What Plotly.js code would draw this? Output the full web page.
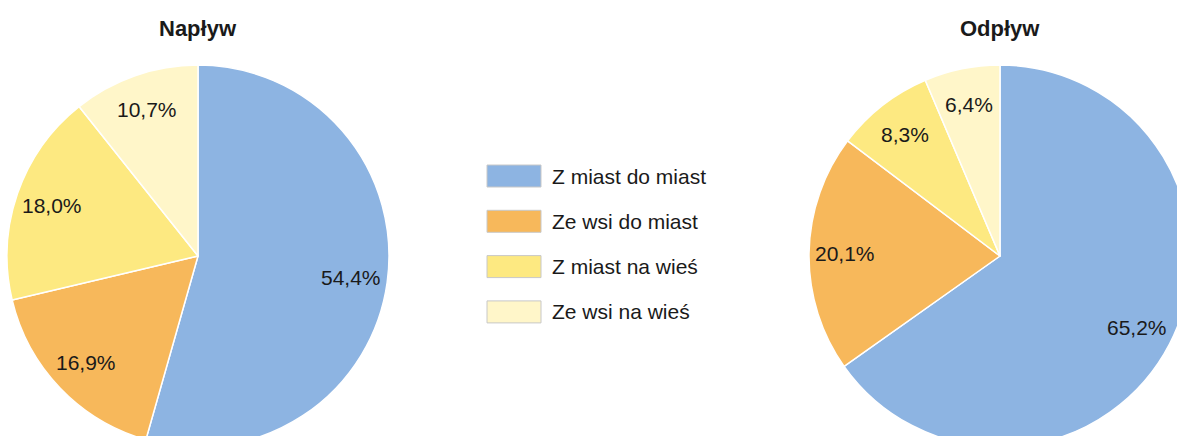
<!DOCTYPE html>
<html>
<head>
<meta charset="utf-8">
<script src="https://cdn.plot.ly/plotly-3.0.1.min.js"></script>
<style>
html, body { margin: 0; padding: 0; overflow: hidden; background: #fff; width: 1177px; height: 436px; }
#chart { width: 1220px; height: 520px; }
</style>
</head>
<body>
<div id="chart"></div>
<script>
const categories = ["Z miast do miast", "Ze wsi do miast", "Z miast na wieś", "Ze wsi na wieś"];
const inflowValues = [54.4, 16.9, 18.0, 10.7];
const outflowValues = [65.2, 20.1, 8.3, 6.4];
const pieTitles = ["Napływ", "Odpływ"];
const colors = ["#8DB4E2", "#F7B85B", "#FDE981", "#FFF6C9"];

const W = 1220, H = 520;
const FONT = '"Liberation Sans Narrow", "Arial Narrow", "Liberation Sans", Arial, sans-serif';
const px = x => x / W;
const py = y => 1 - y / H;
const fmt = v => v.toFixed(1).replace('.', ',') + '%';

// pie geometry (pixels): centre and radius
const pies = [
  { values: inflowValues, title: pieTitles[0], cx: 198, cy: 256, r: 191 },
  { values: outflowValues, title: pieTitles[1], cx: 1000, cy: 256, r: 191 }
];
const LABEL_R = 0.81;

const data = [];
const annotations = [];
pies.forEach(p => {
  data.push({
    type: 'pie',
    labels: categories,
    values: p.values,
    text: p.values.map(fmt),
    textinfo: 'none',
    sort: false,
    direction: 'clockwise',
    rotation: 0,
    marker: { colors: colors, line: { color: '#ffffff', width: 1.5 } },
    domain: { x: [px(p.cx - p.r), px(p.cx + p.r)], y: [py(p.cy + p.r), py(p.cy - p.r)] },
    showlegend: false,
    hoverinfo: 'label+text'
  });
  annotations.push({
    text: '<b>' + p.title + '</b>', xref: 'paper', yref: 'paper',
    x: px(p.cx), y: py(28), showarrow: false, xanchor: 'center', yanchor: 'middle',
    font: { family: FONT, size: 22, color: '#1a1a1a' }
  });
  const total = p.values.reduce((a, b) => a + b, 0);
  let cum = 0;
  p.values.forEach(v => {
    const mid = (cum + v / 2) / total * 2 * Math.PI;
    cum += v;
    const lx = p.cx + LABEL_R * p.r * Math.sin(mid);
    const ly = p.cy - LABEL_R * p.r * Math.cos(mid);
    annotations.push({
      text: fmt(v), xref: 'paper', yref: 'paper', x: px(lx), y: py(ly),
      xanchor: 'center', yanchor: 'middle', showarrow: false,
      font: { family: FONT, size: 21, color: '#1a1a1a' }
    });
  });
});

const shapes = [];
categories.forEach((c, i) => {
  const cy = 176 + i * 45.3;
  shapes.push({
    type: 'rect', xref: 'paper', yref: 'paper',
    x0: px(487), x1: px(541), y0: py(cy + 11), y1: py(cy - 11),
    fillcolor: colors[i], line: { color: '#c8c8c8', width: 1 }
  });
  annotations.push({
    text: c, xref: 'paper', yref: 'paper', x: px(550), y: py(cy),
    xanchor: 'left', yanchor: 'middle', showarrow: false,
    font: { family: FONT, size: 21, color: '#1a1a1a' }
  });
});

const layout = {
  width: W, height: H,
  margin: { l: 0, r: 0, t: 0, b: 0 },
  paper_bgcolor: '#ffffff',
  showlegend: false,
  annotations: annotations,
  shapes: shapes
};

Plotly.newPlot('chart', data, layout, { displayModeBar: false, staticPlot: true });
</script>
</body>
</html>
